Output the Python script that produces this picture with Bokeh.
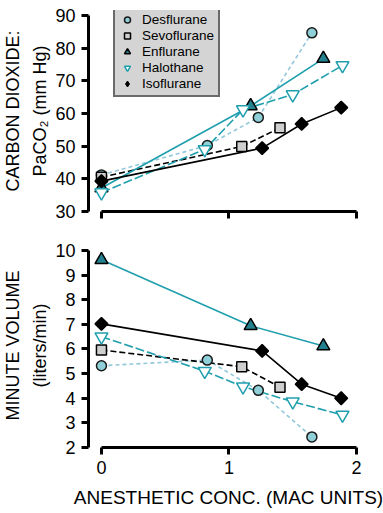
from bokeh.plotting import figure
from bokeh.layouts import column
from bokeh.models import Range1d, FixedTicker, Legend, LegendItem
from bokeh.embed import file_html
from bokeh.resources import INLINE

# ---- data ----
des_x = [0, 0.83, 1.23, 1.65]
des_co2 = [41.2, 50.2, 58.8, 84.7]
des_mv = [5.32, 5.55, 4.32, 2.43]

sevo_x = [0, 1.10, 1.40]
sevo_co2 = [40.5, 49.9, 55.6]
sevo_mv = [5.96, 5.28, 4.45]

enf_x = [0, 1.17, 1.74]
enf_co2 = [37.2, 62.3, 76.8]
enf_mv = [9.62, 6.94, 6.12]

hal_x = [0, 0.81, 1.11, 1.50, 1.89]
hal_co2 = [35.8, 49.0, 61.2, 65.8, 74.7]
hal_mv = [6.50, 5.10, 4.47, 3.86, 3.32]

iso_x = [0, 1.26, 1.57, 1.88]
iso_co2 = [39.3, 49.4, 56.8, 61.8]
iso_mv = [7.02, 5.92, 4.57, 4.00]

names = ["Desflurane", "Sevoflurane", "Enflurane", "Halothane", "Isoflurane"]
x_ticks = [0, 1, 2]
co2_ticks = [30, 40, 50, 60, 70, 80, 90]
mv_ticks = [2, 3, 4, 5, 6, 7, 8, 9, 10]

FONT = "Liberation Sans"
TEAL = "#1f9fae"
LIGHT = "#92c8da"

styles = {
    "Desflurane": dict(line_color=LIGHT, line_dash="4 3", marker="circle", size=10, angle=0,
                       fill_color="#8fd0d8", m_line="#1a1a1a"),
    "Sevoflurane": dict(line_color="black", line_dash="6 3", marker="square", size=10, angle=0,
                        fill_color="#cfcfcf", m_line="black"),
    "Enflurane": dict(line_color=TEAL, line_dash="solid", marker="triangle", size=13, angle=0,
                      fill_color="#23808f", m_line="black"),
    "Halothane": dict(line_color=TEAL, line_dash="9 3", marker="inverted_triangle", size=13,
                      angle=0, fill_color="white", m_line=TEAL),
    "Isoflurane": dict(line_color="black", line_dash="solid", marker="square", size=9,
                       angle=0.785398, fill_color="black", m_line="black"),
}

X_RANGE = (-0.1016, 2.094)


def style_axes(p, ybounds, yticks, show_x_labels):
    for ax in (p.xaxis[0], p.yaxis[0]):
        ax.axis_line_width = 3
        ax.major_tick_line_width = 3
        ax.major_tick_out = 7
        ax.major_tick_in = 0
        ax.minor_tick_line_color = None
        ax.major_label_text_font = FONT
        ax.major_label_text_font_size = "18px"
        ax.major_label_text_color = "black"
        ax.axis_label_text_font = FONT
        ax.axis_label_text_font_size = "18px"
        ax.axis_label_text_font_style = "normal"
        ax.axis_label_text_color = "black"
    p.xaxis.bounds = (0, 2)
    p.xaxis.ticker = FixedTicker(ticks=x_ticks)
    p.yaxis.bounds = ybounds
    p.yaxis.ticker = FixedTicker(ticks=yticks)
    p.yaxis.major_label_standoff = 6
    p.yaxis.axis_label_standoff = 2
    p.yaxis.axis_label_text_line_height = 1.35
    if not show_x_labels:
        p.xaxis.major_label_overrides = {t: "" for t in x_ticks}
        p.xaxis.major_label_text_font_size = "8px"
        p.xaxis.major_label_standoff = 0
    p.grid.visible = False
    p.outline_line_color = None
    p.background_fill_color = "white"
    p.border_fill_color = "white"


def draw(p, series):
    rends = {}
    for name, (xs, ys) in series.items():
        st = styles[name]
        p.line(xs, ys, line_color=st["line_color"], line_dash=st["line_dash"], line_width=1.6)
    for name, (xs, ys) in series.items():
        st = styles[name]
        rends[name] = p.scatter(xs, ys, marker=st["marker"], size=st["size"], angle=st["angle"],
                                fill_color=st["fill_color"], line_color=st["m_line"],
                                line_width=1.5)
    return rends


# ---- top panel ----
top = figure(width=383, height=231, output_backend="svg", toolbar_location=None,
             x_range=Range1d(*X_RANGE), y_range=Range1d(30, 91.53),
             min_border_left=87, min_border_right=15, min_border_top=10, min_border_bottom=20)
style_axes(top, (30, 90), co2_ticks, False)
top.yaxis.axis_label = "CARBON DIOXIDE:\nPaCO\u2082 (mm Hg)"
r_top = draw(top, {
    "Desflurane": (des_x, des_co2),
    "Sevoflurane": (sevo_x, sevo_co2),
    "Enflurane": (enf_x, enf_co2),
    "Halothane": (hal_x, hal_co2),
    "Isoflurane": (iso_x, iso_co2),
})
# hidden diamond proxy so the legend shows a diamond for isoflurane
iso_proxy = top.scatter(iso_x, iso_co2, marker="diamond", size=12, fill_color="black",
                        line_color="black", visible=False)
legend_rends = dict(r_top)
legend_rends["Isoflurane"] = iso_proxy
legend = Legend(items=[LegendItem(label=n, renderers=[legend_rends[n]]) for n in names],
                location=(25, 114), orientation="vertical")
legend.label_text_font = FONT
legend.label_text_font_size = "13.5px"
legend.label_text_color = "black"
legend.label_height = 15
legend.glyph_height = 15
legend.glyph_width = 16
legend.label_standoff = 7
legend.spacing = 1
legend.padding = 4
legend.margin = 0
legend.inactive_fill_alpha = 0
legend.border_line_color = "black"
legend.border_line_width = 2.5
legend.background_fill_color = "#d4d4d4"
legend.background_fill_alpha = 1
top.add_layout(legend)

# ---- bottom panel ----
bot = figure(width=383, height=282, output_backend="svg", toolbar_location=None,
             x_range=Range1d(*X_RANGE), y_range=Range1d(2, 10.284),
             min_border_left=87, min_border_right=15, min_border_top=12, min_border_bottom=66)
style_axes(bot, (2, 10), mv_ticks, True)
bot.yaxis.axis_label = "MINUTE VOLUME\n(liters/min)"
bot.xaxis.axis_label = "ANESTHETIC CONC. (MAC UNITS)"
bot.xaxis.axis_label_text_font_size = "19px"
bot.xaxis.major_label_standoff = 6
bot.xaxis.axis_label_standoff = 10
draw(bot, {
    "Desflurane": (des_x, des_mv),
    "Sevoflurane": (sevo_x, sevo_mv),
    "Enflurane": (enf_x, enf_mv),
    "Halothane": (hal_x, hal_mv),
    "Isoflurane": (iso_x, iso_mv),
})

layout = column(top, bot, spacing=0)
open("out.html", "w").write(file_html(layout, INLINE))
